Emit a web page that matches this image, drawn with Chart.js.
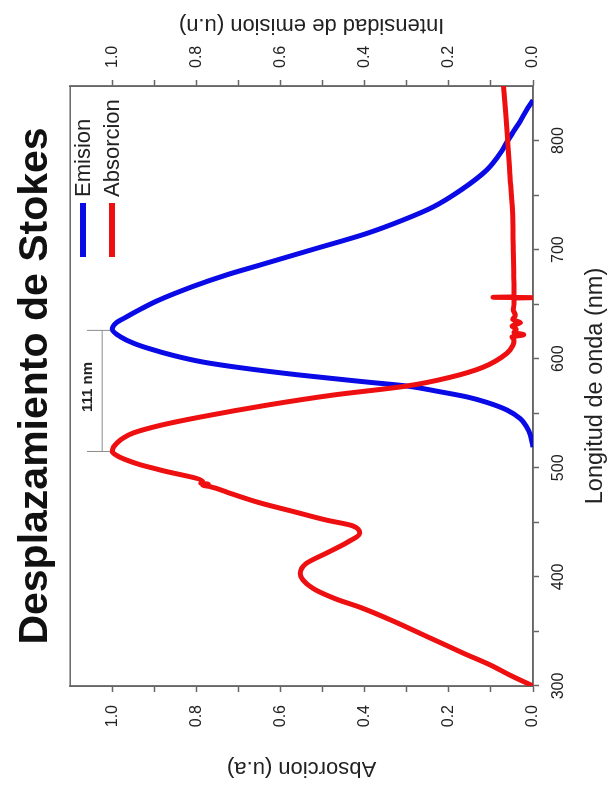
<!DOCTYPE html>
<html>
<head>
<meta charset="utf-8">
<script src="https://cdn.jsdelivr.net/npm/chart.js@4.4.1/dist/chart.umd.min.js"></script>
<style>
    html, body { margin: 0; padding: 0; background: #fff; overflow: hidden; }
    body { width: 616px; height: 786px; position: relative; }
    /* the figure is drawn landscape and turned a quarter turn to the left */
    #wrap { position: absolute; left: 0; top: 0; width: 786px; height: 616px;
            transform-origin: 0 0; transform: translate(0, 786px) rotate(-90deg); }
</style>
</head>
<body>
<div id="wrap"><canvas id="stokes_canvas" width="786" height="616"></canvas></div>
<script>
const absWavelength = [300, 310, 319, 330, 345, 360, 372, 380, 390, 403, 412, 422, 432, 440, 447, 452, 460, 468, 476,
    483, 484, 485, 486, 487, 498, 503, 507, 511, 515, 519, 523, 527, 532, 539, 546.6, 557.6, 566.7, 575, 583, 592, 605,
    612, 617, 620, 622, 624, 627, 630, 633, 636, 640, 645, 650, 655.6, 656, 656.3, 656.7, 665, 680, 700, 736, 770, 798,
    825, 850]
const absValues = [0.0, 0.055, 0.10, 0.165, 0.25, 0.335, 0.41, 0.47, 0.525, 0.553, 0.54, 0.49, 0.44, 0.412, 0.43, 0.49,
    0.57, 0.65, 0.715, 0.77, 0.785, 0.772, 0.79, 0.785, 0.886, 0.935, 0.965, 0.988, 1.0, 0.997, 0.988, 0.975, 0.95,
    0.885, 0.79, 0.63, 0.475, 0.30, 0.197, 0.12, 0.062, 0.048, 0.045, 0.05, 0.022, 0.045, 0.04, 0.05, 0.03, 0.048,
    0.042, 0.047, 0.045, 0.045, 0.002, 0.095, 0.045, 0.045, 0.046, 0.047, 0.049, 0.055, 0.06, 0.065, 0.07]

const emWavelength = [519, 530, 537.5, 545, 553, 560, 565, 570, 575, 578.6, 585, 592, 597, 603, 609, 614, 620, 627, 633,
    638, 645, 654, 666, 677, 686, 700, 715, 727, 739, 755, 773, 790, 800, 815, 830, 837]
const emValues = [0.0, 0.006, 0.015, 0.03, 0.062, 0.11, 0.157, 0.225, 0.30, 0.394, 0.553, 0.70, 0.785, 0.855, 0.91, 0.948,
    0.98, 1.0, 0.99, 0.968, 0.935, 0.888, 0.81, 0.727, 0.648, 0.525, 0.394, 0.31, 0.238, 0.17, 0.11, 0.075, 0.06, 0.035,
    0.012, 0.0]

const xTickLabels = [300, 400, 500, 600, 700, 800]
const yTickLabels = ['0.0', '0.2', '0.4', '0.6', '0.8', '1.0']
const peakWavelength = [515, 626]
const shiftLabel = '111 nm'

Chart.defaults.font.family = '"Liberation Sans", Arial, sans-serif'
Chart.defaults.color = '#222'

function toPoints(xs, ys) {
    let pts = []
    xs.forEach((x, i) => {
        pts.push({x: x, y: ys[i]})
    })
    return pts
}

const extras = {
    id: 'extras',
    beforeDatasetsDraw(chart) {
        const ctx = chart.ctx
        const a = chart.chartArea
        ctx.save()
        ctx.strokeStyle = '#666'
        ctx.lineWidth = 1.5
        ctx.strokeRect(a.left, a.top, a.right - a.left, a.bottom - a.top)
        ctx.restore()
    },
    afterDraw(chart) {
        const ctx = chart.ctx
        const a = chart.chartArea
        const x = chart.scales.x
        const y = chart.scales.y
        ctx.save()

        // right axis title, turned the same way as the left one
        ctx.save()
        ctx.translate(761, (a.top + a.bottom) / 2 + 10)
        ctx.rotate(-Math.PI / 2)
        ctx.font = '22px "Liberation Sans", Arial, sans-serif'
        ctx.fillStyle = '#222'
        ctx.textAlign = 'center'
        ctx.textBaseline = 'middle'
        ctx.fillText('Intensidad de emision (u.n)', 0, 0)
        ctx.restore()

        // legend
        chart.data.datasets.forEach((ds, i) => {
            const ly = 83 + i * 29
            ctx.strokeStyle = ds.borderColor
            ctx.lineWidth = 6
            ctx.beginPath()
            ctx.moveTo(529, ly)
            ctx.lineTo(583, ly)
            ctx.stroke()
            ctx.font = '22px "Liberation Sans", Arial, sans-serif'
            ctx.fillStyle = '#222'
            ctx.textAlign = 'left'
            ctx.textBaseline = 'middle'
            ctx.fillText(ds.label, 589, ly + 1)
        })

        // stokes shift marker between the two maxima
        const x1 = x.getPixelForValue(peakWavelength[0])
        const x2 = x.getPixelForValue(peakWavelength[1])
        const yl = y.getPixelForValue(1.024)
        ctx.strokeStyle = '#8c8c8c'
        ctx.lineWidth = 1
        ctx.beginPath()
        ctx.moveTo(x1, yl)
        ctx.lineTo(x2, yl)
        ;[x1, x2].forEach(px => {
            ctx.moveTo(px, y.getPixelForValue(1.06))
            ctx.lineTo(px, y.getPixelForValue(1.005))
        })
        ctx.stroke()
        ctx.font = 'bold 15px "Liberation Sans", Arial, sans-serif'
        ctx.fillStyle = '#222'
        ctx.textAlign = 'center'
        ctx.textBaseline = 'alphabetic'
        ctx.fillText(shiftLabel, (x1 + x2) / 2 + 4, yl - 10)
        ctx.restore()
    }
}

function valueAxis(position, pad, width) {
    return {
        type: 'linear',
        position: position,
        min: 0,
        max: 1.1,
        afterFit: s => { s.width = width },
        ticks: {
            stepSize: 0.1,
            padding: pad,
            autoSkip: false,
            font: {size: 16},
            color: '#222',
            callback: v => {
                const s = v.toFixed(1)
                return yTickLabels.includes(s) ? s : ''
            }
        },
        grid: {
            drawOnChartArea: false,
            tickLength: 6,
            tickWidth: 1.5,
            tickColor: c => (c.tick && c.tick.value > 1.05) ? 'rgba(0,0,0,0)' : '#666'
        },
        border: {color: '#666', width: 1.5}
    }
}

function chartStokes() {
    const setup = {
        datasets: [{
            label: 'Emision',
            data: toPoints(emWavelength, emValues),
            yAxisID: 'y2',
            borderColor: '#0a0ae6',
            borderWidth: 5,
            pointRadius: 0,
            cubicInterpolationMode: 'monotone',
            order: 1
        }, {
            label: 'Absorcion',
            data: toPoints(absWavelength, absValues),
            yAxisID: 'y',
            borderColor: '#ee1010',
            borderWidth: 5,
            pointRadius: 0,
            cubicInterpolationMode: 'monotone',
            order: 0
        }]
    }
    let yLeft = valueAxis('left', 13, 100)
    yLeft.title = {display: true, text: 'Absorcion (u.a)', font: {size: 22}, color: '#222', padding: {top: 5, bottom: 0}}
    const chart = new Chart(document.getElementById('stokes_canvas'), {
        type: 'line',
        data: setup,
        plugins: [extras],
        options: {
            responsive: false,
            animation: false,
            layout: {padding: 0},
            plugins: {
                legend: {display: false},
                tooltip: {enabled: false},
                title: {
                    display: true,
                    text: 'Desplazamiento de Stokes',
                    fullSize: false,
                    color: '#111',
                    font: {size: 41, weight: 'bold', lineHeight: 1.2},
                    padding: {top: 11, bottom: 10}
                }
            },
            scales: {
                x: {
                    type: 'linear',
                    position: 'bottom',
                    min: 300,
                    max: 850,
                    afterFit: s => { s.height = 83 },
                    ticks: {
                        stepSize: 50,
                        padding: 10,
                        autoSkip: false,
                        maxRotation: 0,
                        font: {size: 16},
                        color: '#222',
                        callback: v => xTickLabels.includes(v) ? String(v) : ''
                    },
                    grid: {
                        drawOnChartArea: false,
                        tickLength: 6,
                        tickWidth: 1.5,
                        tickColor: c => (c.tick && c.tick.value >= 850) ? 'rgba(0,0,0,0)' : '#666'
                    },
                    border: {color: '#666', width: 1.5},
                    title: {display: true, text: 'Longitud de onda (nm)', font: {size: 23.5}, color: '#222', padding: {top: 0, bottom: 6}}
                },
                y: yLeft,
                y2: valueAxis('right', 12, 86)
            }
        }
    })
}

chartStokes()
</script>
</body>
</html>
